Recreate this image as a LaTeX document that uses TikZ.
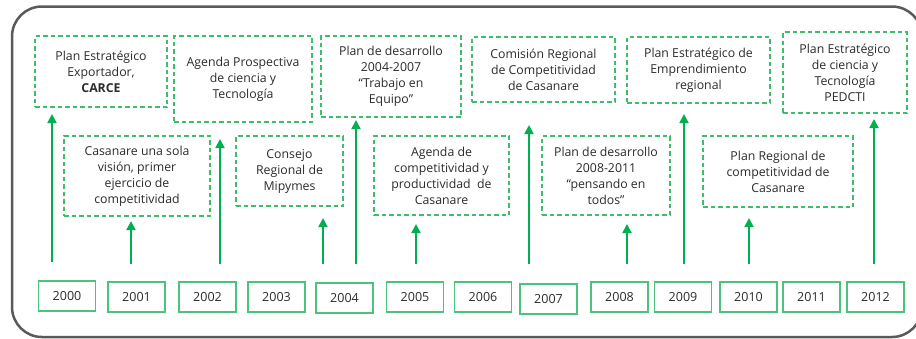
\documentclass[tikz,border=0pt]{standalone}
\usepackage{fontspec}
\setmainfont{Open Sans}
\usetikzlibrary{arrows.meta}
\definecolor{risegreen}{HTML}{00B050}
\definecolor{dashgreen}{HTML}{3DBE6E}
\definecolor{yeargreen}{HTML}{4CC27E}
\definecolor{framegray}{HTML}{5A5A5A}
\definecolor{txtgray}{HTML}{2B2B2B}
\tikzset{
  event/.style={draw=dashgreen, dash pattern=on 4.5pt off 3pt, line width=1.2pt,
    align=center, inner sep=0pt, text=txtgray, font=\fontsize{12.3}{16}\selectfont},
  yearbox/.style={draw=yeargreen, line width=1.3pt, minimum width=57pt,
    minimum height=30pt, inner sep=0pt, text=txtgray, font=\fontsize{12.5}{15}\selectfont},
  rise/.style={draw=risegreen, line width=1.8pt, -{Triangle[width=9pt,length=9pt]}}
}

\begin{document}
\begin{tikzpicture}[x=1pt,y=-1pt]
\useasboundingbox (0,0) rectangle (916,338);
\clip (0,0) rectangle (916,338);
\draw[framegray, line width=2.5pt, rounded corners=30pt] (12,6.5) rectangle (922,337);
%
% upper row
\node[event, minimum width=132pt, minimum height=71pt] (e2000) at (101,71.5)
  {Plan Estratégico\\Exportador,\\\textbf{CARCE}};
\node[event, minimum width=138pt, minimum height=86pt] (e2002) at (243,79)
  {Agenda Prospectiva\\de ciencia y\\Tecnología};
\node[event, minimum width=140pt, minimum height=81pt] (e2004) at (391,76.5)
  {Plan de desarrollo\\2004-2007\\“Trabajo en\\Equipo”};
\node[event, minimum width=143pt, minimum height=65pt] (e2007) at (543.5,69.5)
  {Comisión Regional\\de Competitividad\\de Casanare};
\node[event, minimum width=143pt, minimum height=66pt] (e2009) at (698.5,70)
  {Plan Estratégico de\\Emprendimiento\\regional};
\node[event, minimum width=124pt, minimum height=81pt] (e2012) at (845,72.5)
  {Plan Estratégico\\de ciencia y\\Tecnología\\PEDCTI};
%
% lower row
\node[event, minimum width=146pt, minimum height=80pt] (e2001) at (137,176)
  {Casanare una sola\\visión, primer\\ejercicio de\\competitividad};
\node[event, minimum width=107pt, minimum height=70pt] (e2003) at (289.5,171)
  {Consejo\\Regional de\\Mipymes};
\node[event, minimum width=135pt, minimum height=79pt] (e2005) at (441.5,175.5)
  {Agenda de\\competitividad y\\productividad\ \ de\\Casanare};
\node[event, minimum width=128pt, minimum height=79pt] (e2008) at (606,175.5)
  {Plan de desarrollo\\2008-2011\\“pensando en\\todos”};
\node[event, minimum width=150pt, minimum height=71pt] (e2010) at (778,171.5)
  {Plan Regional de\\competitividad de\\Casanare};
%
% years
\foreach \yr/\x/\y in {2000/67/296,2001/136.5/297,2002/207.5/297,2003/276.5/297,
  2004/344.5/298,2005/415/297,2006/483/297,2007/548.5/299,2008/619.5/297,
  2009/683/297,2010/748.5/297,2011/811.5/297,2012/875.5/297}
  \node[yearbox] (y\yr) at (\x,\y) {\yr};
%
% arrows
\foreach \yr/\x/\tip/\foot in {2000/52/114/262,2002/220/139/264,2004/356/120/264,
  2007/529/125/264,2009/684/114/264,2012/874/119/264,2001/131/221/264,
  2003/323/218/264,2005/416/224/264,2008/627/224/264,2010/749/218/264}
{
  \coordinate (s\yr) at (\x,\foot);
  \coordinate (t\yr) at (\x,\tip);
  \draw[rise] (s\yr) -- (t\yr);
}
\end{tikzpicture}
\end{document}
